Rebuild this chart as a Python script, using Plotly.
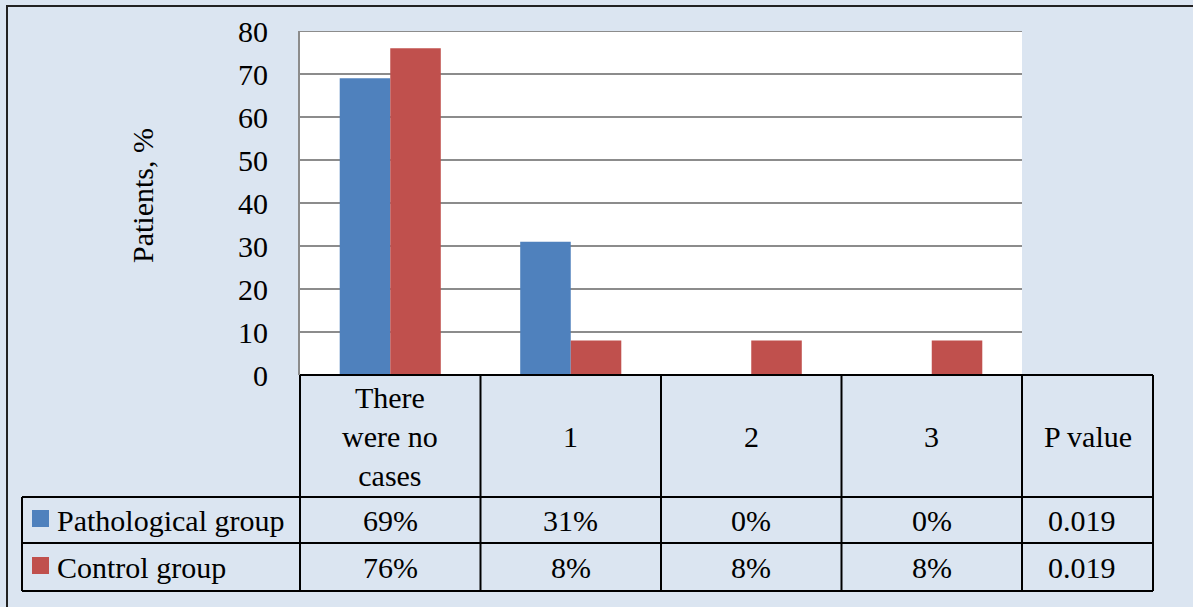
import plotly.graph_objects as go

# ---- data ----
categories = ["There<br>were no<br>cases", "1", "2", "3"]
series_names = ["Pathological group", "Control group"]
pathological = [69, 31, 0, 0]
control = [76, 8, 8, 8]
pathological_labels = ["69%", "31%", "0%", "0%"]
control_labels = ["76%", "8%", "8%", "8%"]
p_header = "P value"
p_values = ["0.019", "0.019"]
y_ticks = [0, 10, 20, 30, 40, 50, 60, 70, 80]
y_title = "Patients, %"

colors = ["#4f81bd", "#c0504d"]
BG = "#dbe5f1"
FONT = "Liberation Serif"
FS = 30

# ---- layout geometry (pixels) ----
W, H = 1193, 607
PL, PR, PT, PB = 300, 1022, 31, 375  # plot area
pw, ph = PR - PL, PB - PT


def px(x):
    return (x - PL) / pw


def py(y):
    return (PB - y) / ph


fig = go.Figure()
for name, vals, col in zip(series_names, [pathological, control], colors):
    fig.add_trace(go.Bar(x=categories, y=vals, name=name, marker_color=col,
                         marker_line_width=0))

shapes = []
ann = []

n = len(categories)
col_edges = [i / n for i in range(n + 1)]
p_right = px(1153)
label_left = px(22)
row_header_bottom = py(497)
row1_bottom = py(543)
row2_bottom = py(591)
line = dict(color="black", width=2)
tfont = dict(family=FONT, size=FS, color="black")

# outer frame
shapes.append(dict(type="rect", xref="paper", yref="paper", x0=px(7), y0=py(630),
                   x1=px(1215), y1=py(6), line=dict(color="#222", width=2),
                   fillcolor="rgba(0,0,0,0)", layer="below"))

# top gridline at the range maximum
shapes.append(dict(type="line", xref="paper", yref="y", x0=0, x1=1, y0=y_ticks[-1], y1=y_ticks[-1],
                   line=dict(color="#8c8c8c", width=2)))

# table horizontal lines
shapes.append(dict(type="line", xref="paper", yref="paper", x0=0, x1=p_right, y0=0, y1=0, line=line))
for yy in [row_header_bottom, row1_bottom, row2_bottom]:
    shapes.append(dict(type="line", xref="paper", yref="paper", x0=label_left, x1=p_right,
                       y0=yy, y1=yy, line=line))
# vertical lines
for xe in col_edges + [p_right]:
    shapes.append(dict(type="line", xref="paper", yref="paper", x0=xe, x1=xe,
                       y0=0, y1=row2_bottom, line=line))
shapes.append(dict(type="line", xref="paper", yref="paper", x0=label_left, x1=label_left,
                   y0=row_header_bottom, y1=row2_bottom, line=line))

# header texts
header_mid = row_header_bottom / 2
for c in categories:
    ann.append(dict(x=c, xref="x", y=header_mid, yref="paper", text=c, showarrow=False,
                    xanchor="center", yanchor="middle", font=tfont, align="center"))
ann.append(dict(x=(1 + p_right) / 2, xref="paper", y=header_mid, yref="paper", text=p_header,
                xanchor="center", yanchor="middle", showarrow=False, font=tfont))

# rows
row_mids = [(row_header_bottom + row1_bottom) / 2, (row1_bottom + row2_bottom) / 2]
for ri, (name, labels, col) in enumerate(zip(series_names, [pathological_labels, control_labels], colors)):
    ym = row_mids[ri]
    # legend swatch
    half = 8.5 / ph
    shapes.append(dict(type="rect", xref="paper", yref="paper", x0=px(32), x1=px(49),
                       y0=ym - half + 1.5 / ph, y1=ym + half + 1.5 / ph, fillcolor=col, line=dict(width=0)))
    ann.append(dict(x=px(55), xref="paper", y=ym, yref="paper", text=name, showarrow=False,
                    xanchor="left", yanchor="middle", font=tfont))
    for c, lab in zip(categories, labels):
        ann.append(dict(x=c, xref="x", y=ym, yref="paper", text=lab, showarrow=False,
                        xanchor="center", yanchor="middle", font=tfont))
    ann.append(dict(x=(1 + p_right) / 2 - 0.008, xref="paper", y=ym, yref="paper", text=p_values[ri],
                    xanchor="center", yanchor="middle", showarrow=False, font=tfont))

# y title
ann.append(dict(x=px(142), xref="paper", y=py(196), yref="paper", text=y_title, textangle=-90,
                xanchor="center", yanchor="middle", showarrow=False, font=tfont))

fig.update_layout(
    width=W, height=H,
    margin=dict(l=PL, r=W - PR, t=PT, b=H - PB, pad=0),
    paper_bgcolor=BG, plot_bgcolor="white",
    barmode="group", bargap=0.44, bargroupgap=0,
    showlegend=False,
    shapes=shapes, annotations=ann,
    xaxis=dict(showticklabels=False, ticks="", showgrid=False, zeroline=False, showline=False),
    yaxis=dict(range=[0, 80], tickvals=y_ticks, showgrid=True, gridcolor="#8c8c8c", gridwidth=2,
               zeroline=False, showline=True, linecolor="#8c8c8c", linewidth=2, ticks="",
               ticklabelstandoff=24,
               tickfont=tfont),
)

fig.write_html("out.html", config={"displayModeBar": False},
               post_script="document.body.style.margin='0px';")
